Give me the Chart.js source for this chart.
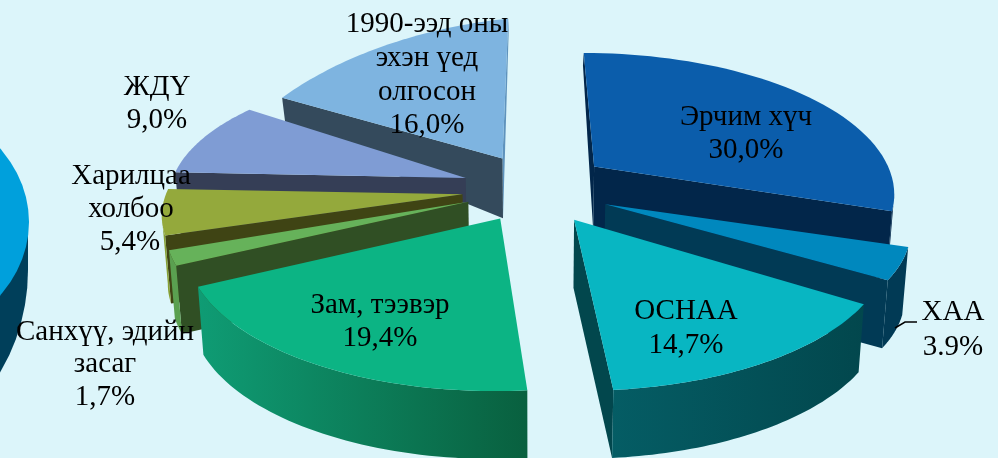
<!DOCTYPE html>
<html><head><meta charset="utf-8">
<style>html,body{margin:0;padding:0;background:#dcf5fa;overflow:hidden}canvas{display:block}</style>
<script src="https://cdn.jsdelivr.net/npm/chart.js@4/dist/chart.umd.min.js"></script>
</head><body>
<div style="width:998px;height:458px"><canvas id="c" width="998" height="458"></canvas></div>
<script>
// ---- data ----
const categories = ["Эрчим хүч","ХАА","ОСНАА","Зам, тээвэр","Санхүү, эдийн засаг","Харилцаа холбоо","ЖДҮ","1990-ээд оны эхэн үед олгосон"];
const shares = [30.0,3.9,14.7,19.4,1.7,5.4,9.0,16.0];
const shareLabels = ["30,0%","3.9%","14,7%","19,4%","1,7%","5,4%","9,0%","16,0%"];
// ---- styles ----
const topColors = ["#0b5dab","#0088be","#08b6c2","#0cb484","#66b25a","#94a93c","#7f9cd4","#7eb4e0"];
const startWall = ["#02264a","#013a55","#02474d","#09603f","#304f24","#3f4414","#353e56","#344a5c"];
const endWall   = ["#02264a","#013a55","#02474d","#09603f","#304f24","#3f4414","#353e56","#5f93bd"];
const arcLeft   = ["#02264a","#013a55","#056068","#0f9c74","#5aa050","#87a035","#353e56","#344a5c"];
const arcRight  = ["#02264a","#013a55","#02474d","#09603f","#5aa050","#87a035","#353e56","#344a5c"];
const explode   = [75,76,72,68,71,73,73,70];
const stretchX  = [1.005,0.98,1,1,0.975,0.975,0.98,1.01];
const stretchY  = [0.97,0.85,0.92,0.93,0.9,0.87,0.9,1.22];
const shearY    = [0,0,0,0,0,0.016,0.018,-0.1];
const labelLines = [
 [["Эрчим хүч",746,117],["30,0%",746,150]],
 [["ХАА",953,312],["3.9%",953,347]],
 [["ОСНАА",686,311],["14,7%",686,345]],
 [["Зам, тээвэр",380,305],["19,4%",380,338]],
 [["Санхүү, эдийн",105,332],["засаг",105,364],["1,7%",105,397]],
 [["Харилцаа",131,176],["холбоо",131,209],["5,4%",130,242]],
 [["ЖДҮ",157,87],["9,0%",157,120]],
 [["1990-ээд оны",427,24],["эхэн үед",427,58],["олгосон",427,92],["16,0%",427,125]]
];
const FONT = '29px "Liberation Serif"';
const K = 0.5, P = 0.17;

function depthAt(y){ return Math.max(12, Math.min(68, 30 + 0.45*(y-92))); }

const pie3d = {
  id:'pie3d',
  beforeDatasetsDraw(chart){
    const ctx = chart.ctx, meta = chart.getDatasetMeta(0);
    // neighbouring element, cropped by the left edge of the picture
    ctx.save();
    ctx.fillStyle='#003f5a'; ctx.beginPath(); ctx.moveTo(-130,222); ctx.lineTo(28,222); ctx.lineTo(28,270);
    ctx.ellipse(-130,270,158,180,0,0,Math.PI/2); ctx.closePath(); ctx.fill();
    ctx.fillStyle='#00a0dc'; ctx.beginPath(); ctx.ellipse(-130,222,159,128,0,0,Math.PI*2); ctx.fill();
    ctx.restore();
    const items = meta.data.map((el,i)=>{
      const p = el.getProps(['x','y','startAngle','endAngle','outerRadius'],true);
      const mid=(p.startAngle+p.endAngle)/2;
      return {el,i,p,mid};
    }).sort((a,b)=>Math.sin(a.mid)-Math.sin(b.mid));
    items.forEach(it=>{
      const {i,p,mid,el}=it, R=p.outerRadius, off=el.options.offset;
      const ax=off*Math.cos(mid), ay=off*Math.sin(mid);
      const proj=(wx,wy)=>{const s=1+P*wy/R;return [p.x+wx*s,p.y+wy*K*s];};
      const apex=proj(ax,ay);
      const at=(r,t)=>{const q=proj(ax+r*Math.cos(t),ay+r*Math.sin(t));
        const dx=q[0]-apex[0], dy=q[1]-apex[1];
        return [apex[0]+dx*stretchX[i],apex[1]+dy*stretchY[i]+shearY[i]*dx];};
      const arc=[];const N=48;
      for(let n=0;n<=N;n++)arc.push(at(R,p.startAngle+(p.endAngle-p.startAngle)*n/N));
      const down=q=>[q[0]-(q[0]-p.x)*0.016,q[1]+depthAt(q[1])];
      const xs=arc.map(q=>q[0]).concat(apex[0]);
      const g=ctx.createLinearGradient(Math.min(...xs),0,Math.max(...xs),0);
      g.addColorStop(0,arcLeft[i]);g.addColorStop(1,arcRight[i]);
      const poly=(pts,fill)=>{ctx.beginPath();pts.forEach((q,n)=>n?ctx.lineTo(q[0],q[1]):ctx.moveTo(q[0],q[1]));ctx.closePath();ctx.fillStyle=fill;ctx.fill();};
      const quad=(a,b,c)=>{ if(b[0]<a[0]) poly([a,b,down(b),down(a)],c); };
      quad(arc[N],apex,endWall[i]);
      quad(apex,arc[0],startWall[i]);
      // outer wall: contiguous visible runs
      let run=[];
      const flush=()=>{ if(run.length>1) poly(run.concat(run.slice().reverse().map(down)),g); run=[]; };
      for(let n=0;n<N;n++){
        if(arc[n+1][0]<arc[n][0]){ if(!run.length)run.push(arc[n]); run.push(arc[n+1]); }
        else flush();
      }
      flush();
      poly([apex].concat(arc),el.options.backgroundColor);
    });
    // labels
    ctx.save();
    ctx.font=FONT;ctx.fillStyle='#000';ctx.textAlign='center';ctx.textBaseline='middle';
    labelLines.forEach(ls=>ls.forEach(l=>ctx.fillText(l[0],l[1],l[2])));
    ctx.strokeStyle='#000';ctx.lineWidth=1.5;ctx.beginPath();ctx.moveTo(895,328);ctx.lineTo(905,322);ctx.lineTo(917,322);ctx.stroke();
    ctx.restore();
    return false;
  }
};

new Chart(document.getElementById('c'),{
  type:'pie',
  data:{labels:categories,datasets:[{data:shares,backgroundColor:topColors,offset:explode,borderWidth:0,radius:300,clip:false}]},
  options:{responsive:false,animation:false,
    layout:{padding:{left:72,bottom:82}},
    plugins:{legend:{display:false},tooltip:{enabled:false},title:{display:false}}},
  plugins:[pie3d]
});
</script>
</body></html>
